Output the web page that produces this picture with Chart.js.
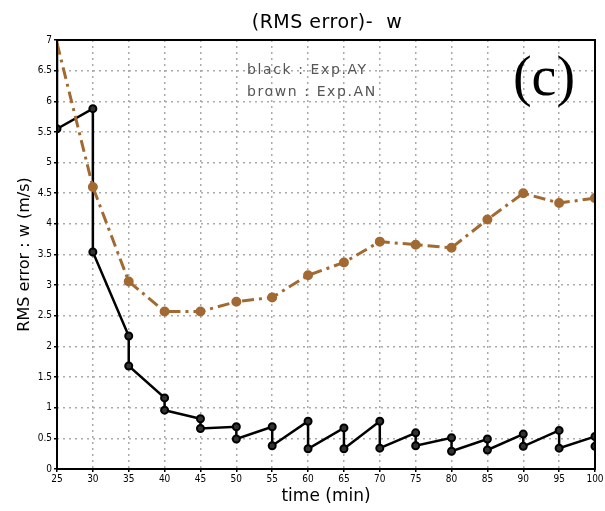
<!DOCTYPE html>
<html>
<head>
<meta charset="utf-8">
<script src="https://cdn.jsdelivr.net/npm/chart.js@4"></script>
<style>
  html, body { margin: 0; padding: 0; background: #fff; }
  #wrap { width: 605px; height: 511px; }
</style>
</head>
<body>
<div id="wrap"><canvas id="grafica-rms"></canvas></div>
<script>
// tiempos de verificacion (min)
const tiempos = [25, 30, 35, 40, 45, 50, 55, 60, 65, 70, 75, 80, 85, 90, 95, 100]

// Exp.AY: error antes (pronostico) y despues del analisis en cada tiempo
const ayAntes = [7.0, 5.88, 2.17, 1.16, 0.82, 0.69, 0.69, 0.78, 0.67, 0.78, 0.59, 0.51, 0.49, 0.57, 0.63, 0.53]
const ayDespues = [5.55, 3.54, 1.68, 0.96, 0.66, 0.49, 0.38, 0.33, 0.33, 0.34, 0.38, 0.29, 0.31, 0.37, 0.34, 0.37]

// Exp.AN: sin asimilacion
const anValores = [6.95, 4.60, 3.06, 2.57, 2.57, 2.73, 2.80, 3.16, 3.37, 3.71, 3.66, 3.61, 4.07, 4.50, 4.34, 4.42]

// ejes
const ejeX = { min: 25, max: 100, paso: 5 }
const ejeY = { min: 0, max: 7, paso: 0.5 }

// linea en zigzag: pronostico -> analisis en cada tiempo
const zigzag = []
tiempos.forEach((t, i) => {
    zigzag.push({ x: t, y: ayAntes[i] })
    zigzag.push({ x: t, y: ayDespues[i] })
})

const lineaAN = tiempos.map((t, i) => ({ x: t, y: anValores[i] }))

const cafe = '#a26a32'

//? textos sobre la grafica y el marco
const textos = {
    id: 'textos',
    afterDraw(chart) {
        const { ctx, chartArea: a } = chart
        ctx.save()

        ctx.strokeStyle = '#000'
        ctx.lineWidth = 2
        ctx.strokeRect(a.left, a.top, a.right - a.left, a.bottom - a.top)

        ctx.fillStyle = '#000'
        ctx.textAlign = 'center'
        ctx.textBaseline = 'middle'
        ctx.font = '19px "DejaVu Sans"'
        ctx.letterSpacing = '0.5px'
        ctx.fillText('(RMS error)-  w', 327, 23)

        ctx.textAlign = 'left'
        ctx.fillStyle = '#555'
        ctx.font = '14px "DejaVu Sans"'
        ctx.letterSpacing = '1.6px'
        ctx.fillText('black : Exp.AY', 247, 70)
        ctx.fillText('brown : Exp.AN', 247, 92)

        ctx.fillStyle = '#000'
        ctx.letterSpacing = '0px'
        ctx.font = '56px "Liberation Serif"'
        ctx.textAlign = 'center'
        ctx.fillText('(c)', 544, 80)

        ctx.restore()
    }
}

const grafica = new Chart(document.getElementById('grafica-rms'), {
    type: 'line',
    data: {
        datasets: [
            {
                label: 'Exp.AN',
                data: lineaAN,
                borderColor: cafe,
                backgroundColor: cafe,
                borderWidth: 3,
                borderDash: [12, 5, 3, 5],
                pointRadius: c => c.dataIndex === 0 ? 0 : 3.5,
                pointBackgroundColor: cafe,
                pointBorderColor: cafe,
                fill: false,
                tension: 0
            },
            {
                label: 'Exp.AY',
                data: zigzag,
                borderColor: '#000',
                backgroundColor: '#222',
                borderWidth: 2.5,
                pointRadius: c => c.dataIndex === 0 ? 0 : 3.5,
                pointBorderWidth: 2,
                pointBorderColor: '#000',
                pointBackgroundColor: '#333',
                fill: false,
                tension: 0
            }
        ]
    },
    options: {
        responsive: true,
        maintainAspectRatio: false,
        animation: false,
        layout: { padding: { top: 40, right: 10, left: 0, bottom: 0 } },
        plugins: {
            legend: { display: false },
            tooltip: { enabled: false }
        },
        scales: {
            x: {
                type: 'linear',
                min: ejeX.min,
                max: ejeX.max,
                afterFit: s => { s.height = 42 },
                ticks: {
                    stepSize: ejeX.paso,
                    color: '#000',
                    font: { family: 'DejaVu Sans Condensed', size: 10 },
                    padding: 1,
                    maxRotation: 0,
                    callback: v => String(v)
                },
                grid: { color: '#aaa', lineWidth: 1.5, tickLength: 3, tickColor: '#000' },
                border: { display: false, dash: [2, 4] },
                title: {
                    display: true,
                    text: 'time (min)',
                    color: '#000',
                    font: { family: 'DejaVu Sans', size: 17 },
                    padding: { top: 0, bottom: 4 }
                }
            },
            y: {
                min: ejeY.min,
                max: ejeY.max,
                afterFit: s => { s.width = 57 },
                ticks: {
                    stepSize: ejeY.paso,
                    color: '#000',
                    font: { family: 'DejaVu Sans Condensed', size: 10 },
                    padding: 2,
                    callback: v => String(Math.round(v * 10) / 10)
                },
                grid: { color: '#aaa', lineWidth: 1.5, tickLength: 3, tickColor: '#000' },
                border: { display: false, dash: [2, 4] },
                title: {
                    display: true,
                    text: 'RMS error : w (m/s)',
                    color: '#000',
                    font: { family: 'DejaVu Sans', size: 16 },
                    padding: { top: 15, bottom: 0 }
                }
            }
        }
    },
    plugins: [textos]
})
</script>
</body>
</html>
